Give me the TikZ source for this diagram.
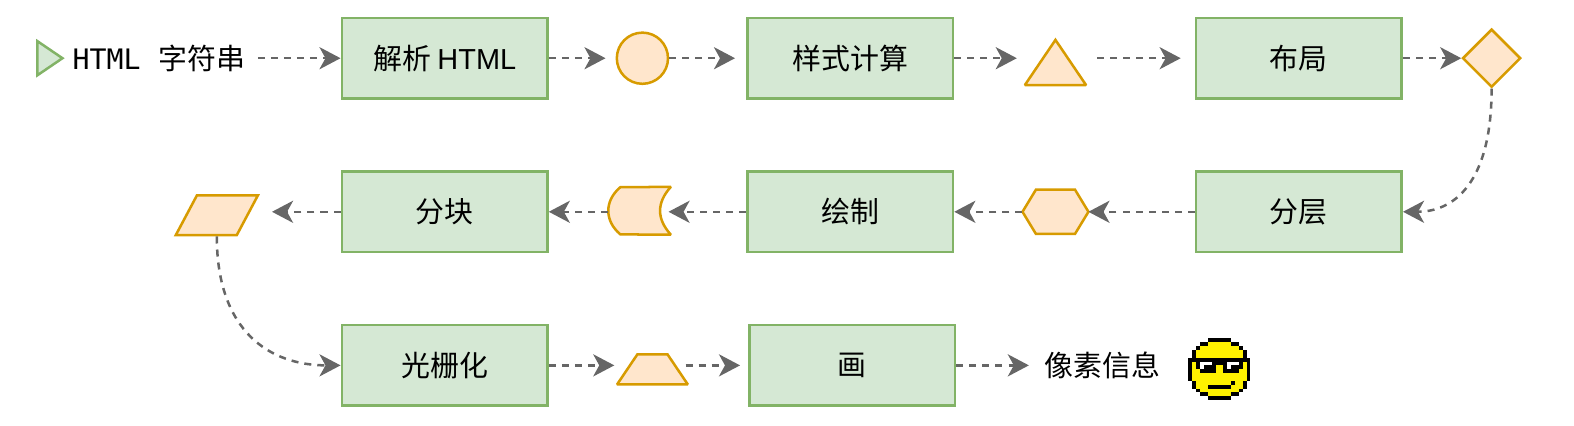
\documentclass[tikz,border=0pt]{standalone}
\usepackage{fontspec}
\usepackage{xcolor}
\usetikzlibrary{arrows.meta, shapes.geometric}
\setmainfont{Liberation Sans}
\newfontfamily\cjk{Noto Sans CJK SC}
\newfontfamily\monofont{DejaVu Sans Mono}
\definecolor{stepfill}{HTML}{D5E8D4}
\definecolor{stepline}{HTML}{82B366}
\definecolor{markfill}{HTML}{FFE6CC}
\definecolor{markline}{HTML}{D79B00}
\definecolor{flowline}{HTML}{666666}
\tikzset{
    stepbox/.style={draw=stepline, fill=stepfill, line width=0.05cm, minimum width=4.1cm, minimum height=1.6cm, font=\fontsize{16.4pt}{20pt}\selectfont\cjk},
    markbox/.style={draw=markline, fill=markfill, line width=0.05cm, inner sep=0pt, miter limit=2},
    plain/.style={inner sep=0pt, font=\fontsize{16.4pt}{20pt}\selectfont\cjk},
    flow/.style={draw=flowline, line width=0.05cm, dash pattern=on 0.14cm off 0.12cm, -{Stealth[length=0.42cm, width=0.44cm, inset=0.12cm, flowline]}},
}
\begin{document}
\begin{tikzpicture}[x=0.02cm, y=-0.02cm]
    \useasboundingbox (0,0) rectangle (1568.1,424.4);

    % first row
    \node[draw=stepline, fill=stepfill, line width=0.05cm, isosceles triangle, isosceles triangle stretches, minimum width=0.68cm, minimum height=0.5cm, inner sep=0pt, anchor=lower side] (start) at (36,58) {};
    \node[plain, anchor=west] (source) at (72,58) {{\monofont\fontsize{16pt}{20pt}\selectfont HTML}\hspace{0.36cm}字符串};
    \node[stepbox] (parse) at (443,58) {解析 {\fontspec{Liberation Sans}HTML}};
    \node[markbox, circle, minimum size=1.02cm] (dom) at (640,58) {};
    \node[stepbox] (style) at (847,58) {样式计算};
    \node[markbox, isosceles triangle, isosceles triangle stretches, shape border rotate=90, minimum width=1.22cm, minimum height=0.9cm, anchor=lower side] (sheet) at (1051.5,86) {};
    \node[stepbox] (layout) at (1294,58) {布局};
    \node[markbox, diamond, minimum size=1.16cm] (tree) at (1486,58) {};

    % second row
    \node[stepbox] (layer) at (1294,211) {分层};
    \node[inner sep=0pt, minimum width=1.3cm, minimum height=0.88cm] (hex) at (1051.5,211) {};
    \draw[markbox] (hex.west) -- (1032,189) -- (1071,189) -- (hex.east) -- (1071,233) -- (1032,233) -- cycle;
    \node[stepbox] (paint) at (847,211) {绘制};
    \node[inner sep=0pt, minimum width=1.24cm, minimum height=0.94cm] (store) at (637,210) {};
    \draw[markbox, line join=bevel] (618,186.5) -- (store.north east) .. controls (654,202) and (654,218) .. (store.south east) -- (618,233.5) .. controls (602,220) and (602,200) .. cycle;
    \node[stepbox] (tile) at (443,211) {分块};
    \node[markbox, inner sep=1pt, trapezium, trapezium left angle=62, trapezium right angle=118, minimum width=1.64cm, minimum height=0.7cm] (slant) at (216,214.5) {};

    % third row
    \node[stepbox] (raster) at (443,364) {光栅化};
    \node[markbox, inner sep=1pt, trapezium, trapezium left angle=56, trapezium right angle=56, minimum width=1.4cm, minimum height=0.6cm] (quad) at (650,368) {};
    \node[stepbox] (picture) at (849,364) {画};
    \node[plain] (pixel) at (1098,364) {像素信息};

    % free ends beside the shapes
    \coordinate (sheetin) at (1013,58);
    \coordinate (sheetout) at (1093,58);
    \coordinate (slantin) at (271,211);
    \coordinate (notch) at (666,211);
    \coordinate (quadin) at (612,364);
    \coordinate (quadout) at (683,364);

    \draw[flow] (source.east) ++(12,0) -- (parse.west);
    \draw[flow, shorten >=0.2cm] (parse) -- (dom);
    \draw[flow, shorten >=0.22cm] (dom) -- (style);
    \draw[flow] (style) -- (sheetin);
    \draw[flow, shorten >=0.28cm] (sheetout) -- (layout);
    \draw[flow] (layout) -- (tree);
    \draw[flow] (tree.south) .. controls +(0,95) and +(50,0) .. (layer.east);
    \draw[flow] (layer) -- (hex);
    \draw[flow] (hex) -- (paint);
    \draw[flow] (paint) -- (notch);
    \draw[flow] (store.west |- tile) -- (tile);
    \draw[flow] (tile) -- (slantin);
    \draw[flow] (slant.south) .. controls +(0,95) and +(-70,0) .. (raster.west);
    \draw[flow] (raster) -- (quadin);
    \draw[flow, shorten >=0.16cm] (quadout) -- (picture);
    \draw[flow, shorten >=0.3cm] (picture) -- (pixel);

    % pixel face, runs of row/from/to
    \begin{scope}[shift={(1184,337)}, x=0.0772cm, y=-0.0772cm]
        \foreach \r/\a/\b in {1/5/10,2/3/12,3/2/13,4/2/13,5/1/14,6/1/14,7/1/14,8/1/14,9/1/14,10/1/14,11/2/13,12/2/13,13/3/12,14/5/10}
            \fill[yellow] (\a,\r) rectangle ({\b+1},{\r+1});
        \foreach \r/\a/\b in {0/5/10,1/3/4,1/11/12,2/2/2,2/13/13,3/1/1,3/14/14,4/1/1,4/14/14,5/0/15,6/0/0,6/15/15,7/0/0,7/15/15,8/0/0,8/15/15,9/0/0,9/15/15,10/0/0,10/15/15,11/1/1,11/14/14,12/1/1,12/14/14,13/2/2,13/13/13,14/3/4,14/11/12,15/5/10,6/2/13,7/2/6,7/9/13,8/3/6,8/9/12,12/5/10,11/11/11}
            \fill[black] (\a,\r) rectangle ({\b+1},{\r+1});
        \foreach \r/\a/\b in {6/3/5,6/10/12,7/3/3,7/10/10}
            \fill[white] (\a,\r) rectangle ({\b+1},{\r+1});
    \end{scope}
\end{tikzpicture}
\end{document}
